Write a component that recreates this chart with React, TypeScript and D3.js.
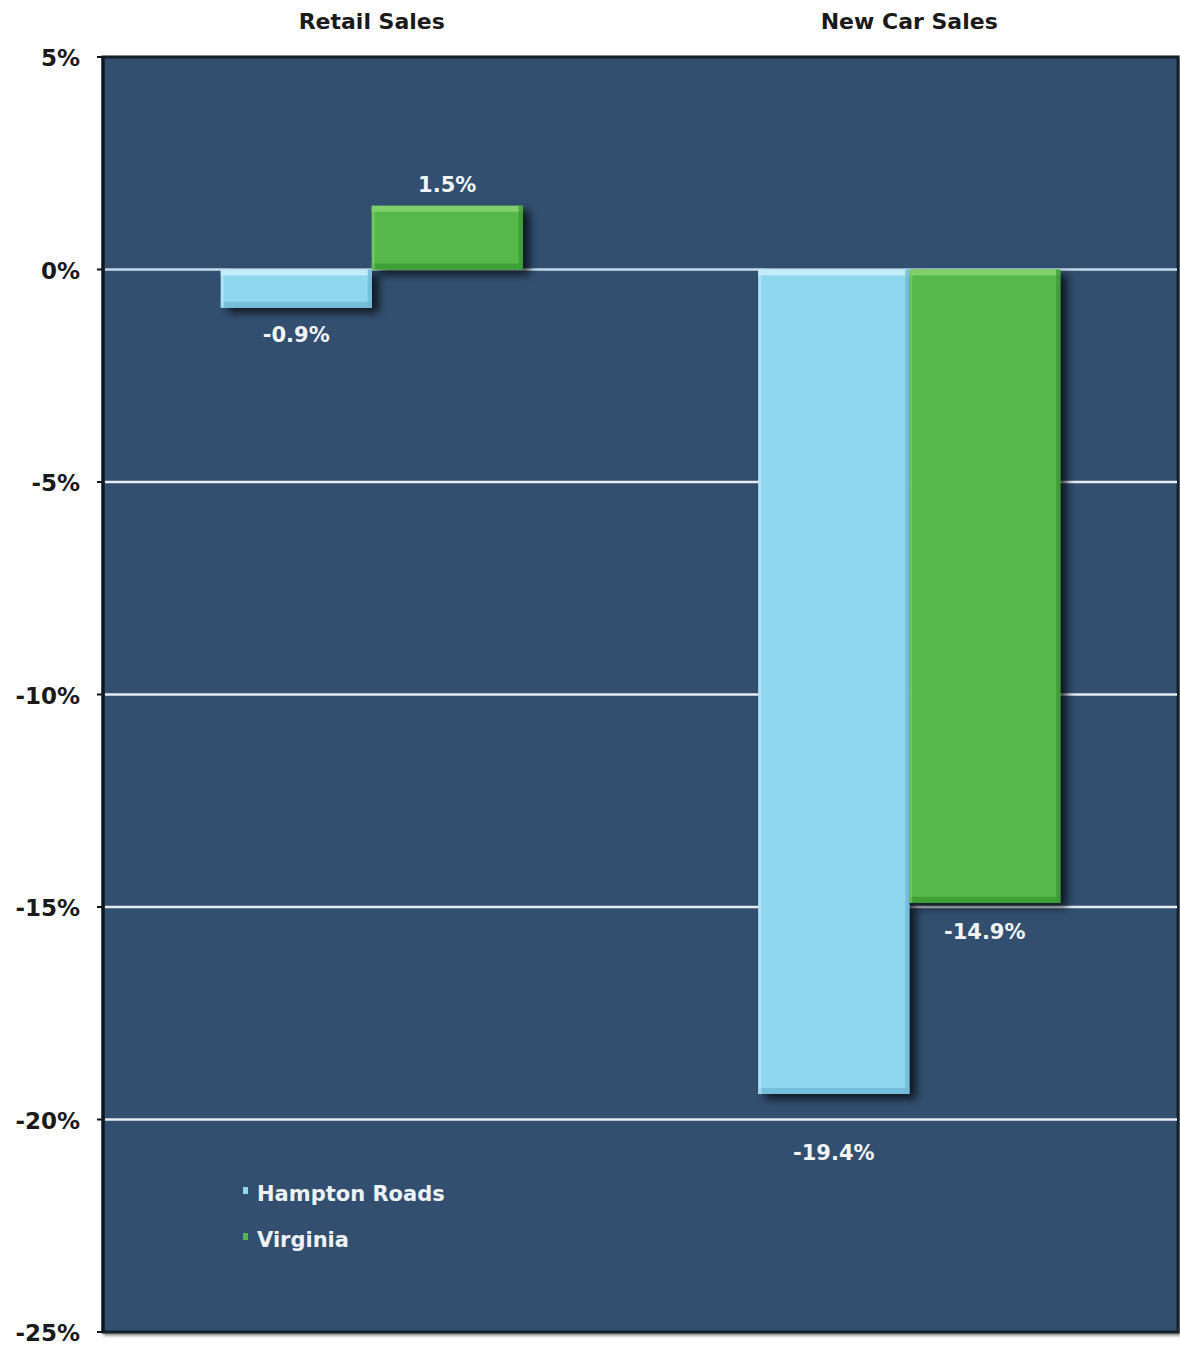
import React from "react";
import * as d3 from "d3";

const categories = ["Retail Sales", "New Car Sales"];
const seriesNames = ["Hampton Roads", "Virginia"];
const hamptonRoads = [-0.9, -19.4];
const virginia = [1.5, -14.9];
const valueLabels = [["-0.9%", "-19.4%"], ["1.5%", "-14.9%"]];
const yTicks = [5, 0, -5, -10, -15, -20, -25];
const gridValues = [0, -5, -10, -15, -20];
const seriesColors = ["#8fd7ef", "#55b848"];
const seriesEdge = ["#c4ecf8", "#7fd06a"];
const seriesDark = ["#6fb9d4", "#3a9a34"];
// extra label distance below the bar for each [series][category]
const labelGap = [[26, 58], [24, 28]];

const W = 1180;
const H = 1346;
const M = { left: 103, right: 2, top: 57, bottom: 14 };

export default function App() {
  const x0 = d3
    .scaleBand<string>()
    .domain(categories)
    .range([M.left, W - M.right]);
  const x1 = d3
    .scaleBand<string>()
    .domain(seriesNames)
    .range([0, x0.bandwidth()])
    .paddingInner(0)
    .paddingOuter(0.78);
  const y = d3.scaleLinear().domain([5, -25]).range([M.top, H - M.bottom]);
  const series = [hamptonRoads, virginia];
  const font = "'DejaVu Sans', 'Noto Sans', sans-serif";

  const bars: React.ReactNode[] = [];
  const labels: React.ReactNode[] = [];
  series.forEach((vals, si) => {
    vals.forEach((v, ci) => {
      const bx = (x0(categories[ci]) as number) + (x1(seriesNames[si]) as number);
      const bw = x1.bandwidth();
      const top = y(Math.max(0, v));
      const bot = y(Math.min(0, v));
      const h = bot - top;
      const e = Math.min(6, h / 3);
      bars.push(
        <g key={`b${si}${ci}`}>
          <rect x={bx} y={top} width={bw} height={h} fill={seriesColors[si]} filter="url(#shadow)" />
          <rect x={bx} y={top} width={bw} height={e} fill={seriesEdge[si]} />
          <rect x={bx} y={bot - e} width={bw} height={e} fill={seriesDark[si]} opacity={0.8} />
          <rect x={bx} y={top} width={3} height={h} fill={seriesEdge[si]} opacity={0.6} />
          <rect x={bx + bw - 4} y={top} width={4} height={h} fill={seriesDark[si]} opacity={0.8} />
        </g>
      );
      const ly = v >= 0 ? top - 14 : bot + labelGap[si][ci] + 8;
      labels.push(
        <text
          key={`l${si}${ci}`}
          x={bx + bw / 2}
          y={ly}
          textAnchor="middle"
          fill="#f2f5f8"
          fontSize={21}
          fontWeight="bold"
          fontFamily={font}
        >
          {valueLabels[si][ci]}
        </text>
      );
    });
  });

  return (
    <svg
      width={W}
      height={H}
      style={{ position: "absolute", left: 0, top: 0, background: "#fff" }}
    >
      <defs>
        <filter id="shadow" x="-20%" y="-20%" width="150%" height="150%">
          <feDropShadow dx={7} dy={5} stdDeviation={4} floodColor="#000" floodOpacity={0.7} />
        </filter>
        <filter id="frameShadow" x="-5%" y="-5%" width="110%" height="110%">
          <feDropShadow dx={2} dy={2} stdDeviation={1.5} floodColor="#000" floodOpacity={0.5} />
        </filter>
      </defs>
      <rect
        x={M.left}
        y={M.top}
        width={W - M.left - M.right}
        height={H - M.top - M.bottom}
        fill="#30506f"
        stroke="#16202c"
        strokeWidth={3}
        filter="url(#frameShadow)"
      />
      {gridValues.map((g) => (
        <line
          key={g}
          x1={M.left + 2}
          x2={W - M.right - 1}
          y1={y(g)}
          y2={y(g)}
          stroke={g === 0 ? "#c8d8ec" : "#e6ecf2"}
          strokeWidth={2.5}
        />
      ))}
      {bars}
      {labels}
      <line x1={M.left} x2={M.left} y1={M.top} y2={H - M.bottom} stroke="#0e1620" strokeWidth={3} />
      {yTicks.map((t) => (
        <g key={t}>
          <line x1={M.left - 6} x2={M.left} y1={y(t)} y2={y(t)} stroke="#0e1620" strokeWidth={2} />
          <text
            x={80}
            y={y(t) + 9}
            textAnchor="end"
            fontSize={23}
            fontWeight="bold"
            fontFamily={font}
            fill="#1a1a1a"
          >
            {`${t}%`}
          </text>
        </g>
      ))}
      {categories.map((c) => (
        <text
          key={c}
          x={(x0(c) as number) + x0.bandwidth() / 2}
          y={29}
          textAnchor="middle"
          fontSize={22}
          fontWeight="bold"
          fontFamily={font}
          fill="#1a1a1a"
        >
          {c}
        </text>
      ))}
      {seriesNames.map((s, i) => (
        <g key={s} transform={`translate(243, ${1193 + i * 46})`}>
          <rect x={0} y={-6} width={5} height={7} fill={seriesColors[i]} />
          <text
            x={14}
            y={8}
            fontSize={21}
            fontWeight="bold"
            fontFamily={font}
            fill="#eef2f6"
          >
            {s}
          </text>
        </g>
      ))}
    </svg>
  );
}
